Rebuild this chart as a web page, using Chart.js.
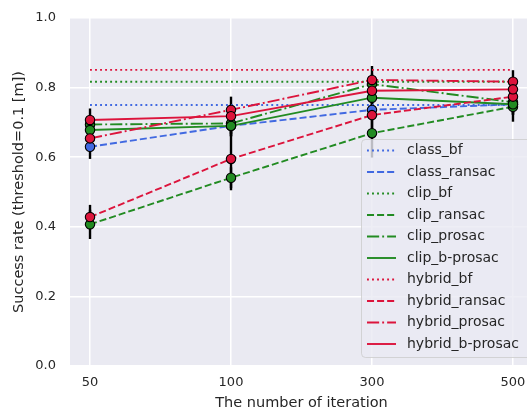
<!DOCTYPE html>
<html>
<head>
<meta charset="utf-8">
<script src="https://cdn.jsdelivr.net/npm/chart.js@4.4.0/dist/chart.umd.min.js"></script>
<style>
  html, body { margin: 0; padding: 0; background: #fff; overflow: hidden; }
  #wrap { position: absolute; left: 0; top: 0; width: 540px; height: 412px; }
</style>
</head>
<body>
<div id="wrap"><canvas id="chart" width="540" height="412"></canvas></div>
<script>
// Données
const iterations = ['50', '100', '300', '500'];

const classBf = [0.75, 0.75, 0.75, 0.75];
const classRansac = [0.630, 0.690, 0.736, 0.752];
const clipBf = [0.817, 0.817, 0.817, 0.817];
const clipRansac = [0.407, 0.541, 0.669, 0.745];
const clipProsac = [0.694, 0.697, 0.810, 0.758];
const clipBProsac = [0.678, 0.690, 0.771, 0.752];
const hybridBf = [0.851, 0.851, 0.851, 0.851];
const hybridRansac = [0.428, 0.595, 0.721, 0.774];
const hybridProsac = [0.654, 0.736, 0.822, 0.817];
const hybridBProsac = [0.707, 0.718, 0.791, 0.795];

// écarts (barres d'erreur)
const errClassRansac = [0.035, 0.03, 0.03, 0.03];
const errClipRansac = [0.042, 0.03, 0.07, 0.043];
const errClipProsac = [0.02, 0.03, 0.03, 0.03];
const errClipBProsac = [0.02, 0.03, 0.03, 0.03];
const errHybridRansac = [0.035, 0.09, 0.05, 0.03];
const errHybridProsac = [0.03, 0.038, 0.04, 0.033];
const errHybridBProsac = [0.033, 0.03, 0.03, 0.03];

const BLUE = '#4169E1', GREEN = '#228B22', RED = '#DC143C';
const LW = 1.9;
const DOT = [LW * 1, LW * 1.65];
const DASH = [LW * 3.7, LW * 1.6];
const DASHDOT = [LW * 6.4, LW * 1.6, LW * 1, LW * 1.6];

const series = [
  { label: 'class_bf', data: classBf, color: BLUE, dash: DOT, marker: false },
  { label: 'class_ransac', data: classRansac, color: BLUE, dash: DASH, marker: true, err: errClassRansac },
  { label: 'clip_bf', data: clipBf, color: GREEN, dash: DOT, marker: false },
  { label: 'clip_ransac', data: clipRansac, color: GREEN, dash: DASH, marker: true, err: errClipRansac },
  { label: 'clip_prosac', data: clipProsac, color: GREEN, dash: DASHDOT, marker: true, err: errClipProsac },
  { label: 'clip_b-prosac', data: clipBProsac, color: GREEN, dash: [], marker: true, err: errClipBProsac },
  { label: 'hybrid_bf', data: hybridBf, color: RED, dash: DOT, marker: false },
  { label: 'hybrid_ransac', data: hybridRansac, color: RED, dash: DASH, marker: true, err: errHybridRansac },
  { label: 'hybrid_prosac', data: hybridProsac, color: RED, dash: DASHDOT, marker: true, err: errHybridProsac },
  { label: 'hybrid_b-prosac', data: hybridBProsac, color: RED, dash: [], marker: true, err: errHybridBProsac }
];

const FONT = 'DejaVu Sans';
const TXT = '#262626';

// fond gris de la zone de tracé
const bgPlugin = {
  id: 'bg',
  beforeDraw(chart) {
    const { ctx, chartArea: a } = chart;
    ctx.save();
    ctx.fillStyle = '#EAEAF2';
    ctx.fillRect(a.left, a.top, a.right - a.left, a.bottom - a.top);
    ctx.restore();
  }
};

// barres d'erreur noires
const errPlugin = {
  id: 'errbars',
  beforeDatasetsDraw(chart) {
    const { ctx, scales: { x, y } } = chart;
    ctx.save();
    ctx.strokeStyle = '#000';
    ctx.lineWidth = 2.4;
    ctx.lineCap = 'butt';
    series.forEach(s => {
      if (!s.err) return;
      s.data.forEach((v, i) => {
        const px = x.getPixelForValue(i);
        ctx.beginPath();
        ctx.moveTo(px, y.getPixelForValue(v - s.err[i]));
        ctx.lineTo(px, y.getPixelForValue(v + s.err[i]));
        ctx.stroke();
      });
    });
    ctx.restore();
  }
};

// légende dessinée dans le graphique
const legendPlugin = {
  id: 'innerLegend',
  afterDraw(chart) {
    const { ctx } = chart;
    const bx = 361.5, by = 139.5, bw = 200, bh = 218, r = 4;
    ctx.save();
    ctx.beginPath();
    ctx.moveTo(bx + r, by);
    ctx.lineTo(bx + bw - r, by);
    ctx.arcTo(bx + bw, by, bx + bw, by + r, r);
    ctx.lineTo(bx + bw, by + bh - r);
    ctx.arcTo(bx + bw, by + bh, bx + bw - r, by + bh, r);
    ctx.lineTo(bx + r, by + bh);
    ctx.arcTo(bx, by + bh, bx, by + bh - r, r);
    ctx.lineTo(bx, by + r);
    ctx.arcTo(bx, by, bx + r, by, r);
    ctx.closePath();
    ctx.fillStyle = 'rgba(234,234,242,0.8)';
    ctx.fill();
    ctx.strokeStyle = 'rgba(204,204,204,0.8)';
    ctx.lineWidth = 1;
    ctx.stroke();

    ctx.font = '14px "' + FONT + '"';
    ctx.textBaseline = 'middle';
    ctx.fillStyle = TXT;
    series.forEach((s, i) => {
      const cy = 150.5 + i * 21.5;
      ctx.beginPath();
      ctx.setLineDash(s.dash);
      ctx.strokeStyle = s.color;
      ctx.lineWidth = LW;
      ctx.moveTo(367, cy);
      ctx.lineTo(396, cy);
      ctx.stroke();
      ctx.setLineDash([]);
      ctx.fillText(s.label, 407, cy);
    });
    ctx.restore();
  }
};

new Chart(document.getElementById('chart'), {
  type: 'line',
  data: {
    datasets: series.map((s, i) => ({
      label: s.label,
      data: s.data.map((v, k) => ({ x: k, y: v })),
      borderColor: s.color,
      borderWidth: LW,
      borderDash: s.dash,
      backgroundColor: s.color,
      pointRadius: s.marker ? 4.7 : 0,
      pointBorderColor: '#000',
      pointBorderWidth: 1.1,
      pointBackgroundColor: s.color,
      tension: 0,
      order: -i
    }))
  },
  options: {
    responsive: false,
    animation: false,
    layout: { padding: { top: 18, right: 7, left: 0, bottom: 0 } },
    plugins: {
      legend: { display: false },
      tooltip: { enabled: false }
    },
    scales: {
      x: {
        type: 'linear',
        min: -0.142,
        max: 3.142,
        afterBuildTicks: axis => { axis.ticks = [0, 1, 2, 3].map(v => ({ value: v })); },
        afterFit: axis => { axis.height = 46; axis.paddingLeft = 0; axis.paddingRight = 0; },
        grid: { color: '#FFFFFF', lineWidth: 1.5, drawTicks: false },
        border: { display: false },
        ticks: {
          color: TXT,
          font: { family: FONT, size: 13 },
          padding: 9,
          maxRotation: 0,
          callback: v => iterations[v]
        },
        title: {
          display: true,
          text: 'The number of iteration',
          color: TXT,
          font: { family: FONT, size: 14.5 },
          padding: { top: 3, bottom: 0 }
        }
      },
      y: {
        min: 0,
        max: 1.0,
        afterFit: axis => { axis.width = 70; axis.paddingTop = 0; axis.paddingBottom = 0; },
        grid: { color: '#FFFFFF', lineWidth: 1.5, drawTicks: false },
        border: { display: false },
        ticks: {
          stepSize: 0.2,
          color: TXT,
          font: { family: FONT, size: 13 },
          padding: 14,
          callback: v => v.toFixed(1)
        },
        title: {
          display: true,
          text: 'Success rate (threshold=0.1 [m])',
          color: TXT,
          font: { family: FONT, size: 14.5 },
          padding: { top: 11, bottom: 0 }
        }
      }
    }
  },
  plugins: [bgPlugin, errPlugin, legendPlugin]
});
</script>
</body>
</html>
